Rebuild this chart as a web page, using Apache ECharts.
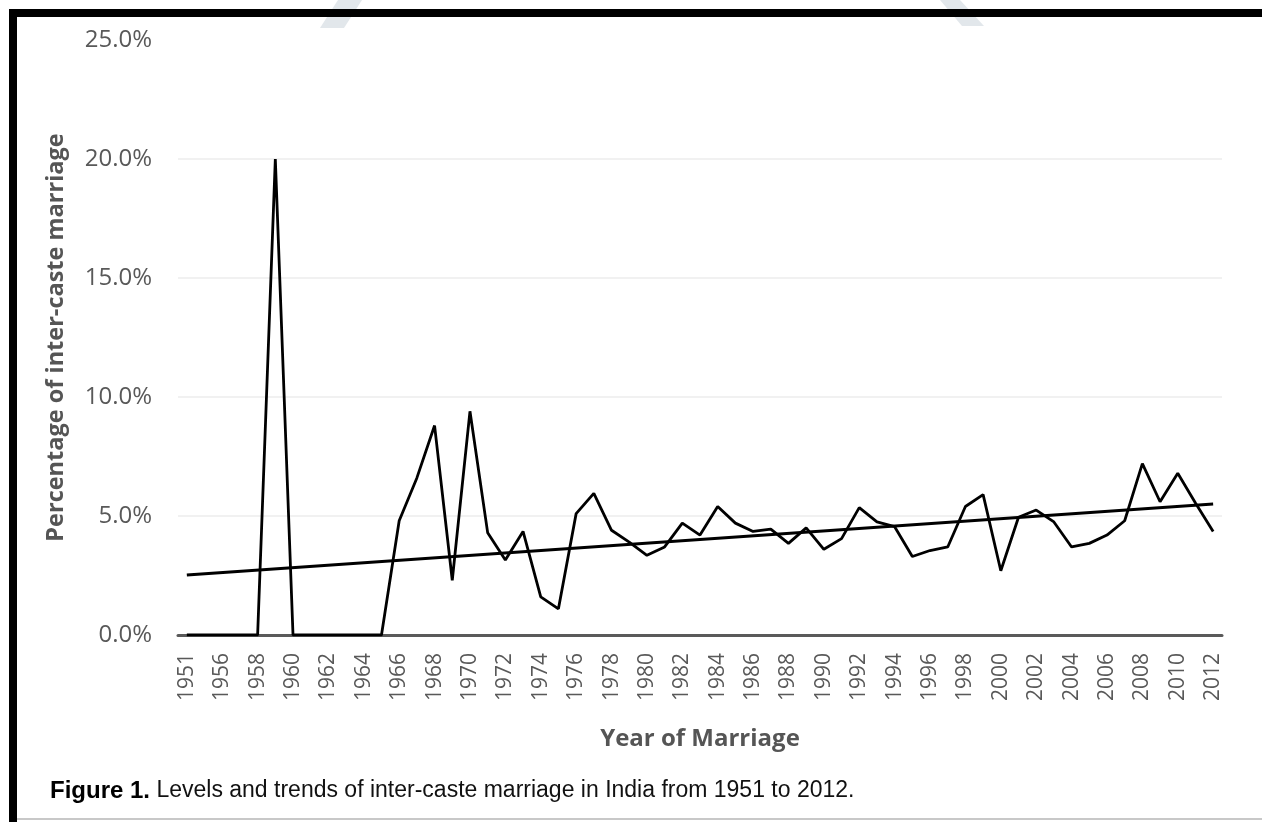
<!DOCTYPE html>
<html>
<head>
<meta charset="utf-8">
<script src="https://cdn.jsdelivr.net/npm/echarts@6/dist/echarts.min.js"></script>
<style>
  html, body { margin: 0; padding: 0; background: #fff; }
  #main { width: 1262px; height: 822px; }
</style>
</head>
<body>
<div id="main"></div>
<script>
    // year of marriage (second category has no visible label)
    var years = ['1951', '1955', '1956', '1957', '1958', '1959', '1960', '1961', '1962', '1963',
        '1964', '1965', '1966', '1967', '1968', '1969', '1970', '1971', '1972', '1973',
        '1974', '1975', '1976', '1977', '1978', '1979', '1980', '1981', '1982', '1983',
        '1984', '1985', '1986', '1987', '1988', '1989', '1990', '1991', '1992', '1993',
        '1994', '1995', '1996', '1997', '1998', '1999', '2000', '2001', '2002', '2003',
        '2004', '2005', '2006', '2007', '2008', '2009', '2010', '2011', '2012'];

    // percentage of inter-caste marriage
    var interCaste = [0, 0, 0, 0, 0, 20.0, 0, 0, 0, 0,
        0, 0, 4.8, 6.6, 8.8, 2.3, 9.4, 4.3, 3.15, 4.35,
        1.6, 1.1, 5.1, 5.95, 4.4, 3.9, 3.35, 3.7, 4.7, 4.2,
        5.4, 4.7, 4.35, 4.45, 3.85, 4.5, 3.6, 4.05, 5.35, 4.75,
        4.55, 3.3, 3.55, 3.7, 5.4, 5.9, 2.7, 4.95, 5.25, 4.75,
        3.7, 3.85, 4.2, 4.8, 7.2, 5.6, 6.8, 5.55, 4.35];

    // linear trend end points
    var trendYears = ['1951', '2012'];
    var trendValues = [2.52, 5.5];

    var yTicks = [0, 5, 10, 15, 20, 25];

    var chart = echarts.init(document.getElementById('main'));

    var option = {
        animation: false,
        backgroundColor: '#fff',
        grid: { left: 178, right: 40, top: 40, bottom: 187 },
        xAxis: {
            type: 'category',
            data: years,
            boundaryGap: true,
            name: 'Year of Marriage',
            nameLocation: 'middle',
            nameGap: 92,
            nameTextStyle: { fontFamily: 'Open Sans', fontSize: 24, fontWeight: 'bold', color: '#555' },
            axisLine: { lineStyle: { color: '#5a5a5a', width: 3 } },
            axisTick: { show: false },
            axisLabel: {
                interval: 1,
                rotate: 90,
                margin: 18,
                fontFamily: 'Open Sans',
                fontSize: 21,
                color: '#595959'
            }
        },
        yAxis: {
            type: 'value',
            min: yTicks[0],
            max: yTicks[yTicks.length - 1],
            interval: 5,
            name: 'Percentage of inter-caste marriage',
            nameLocation: 'middle',
            nameGap: 110,
            nameTextStyle: { fontFamily: 'Open Sans', fontSize: 23.5, fontWeight: 'bold', color: '#555' },
            axisLine: { show: false },
            axisTick: { show: false },
            splitLine: { showMaxLine: false, lineStyle: { color: '#ececec', width: 1.5 } },
            axisLabel: {
                margin: 26,
                fontFamily: 'Open Sans',
                fontSize: 24,
                color: '#595959',
                formatter: function (v) { return v.toFixed(1) + '%'; }
            }
        },
        series: [
            {
                name: 'Inter-caste marriage',
                type: 'line',
                data: interCaste,
                symbol: 'none',
                lineStyle: { color: '#000', width: 2.8 },
                z: 3
            },
            {
                name: 'Linear trend',
                type: 'line',
                data: [[trendYears[0], trendValues[0]], [trendYears[1], trendValues[1]]],
                symbol: 'none',
                lineStyle: { color: '#000', width: 3 },
                z: 4
            }
        ],
        graphic: [
            // faint watermark strokes behind the frame
            { type: 'polygon', z: 0, shape: { points: [[338, 0], [362, 0], [344, 28], [320, 28]] }, style: { fill: '#e2e7eb' } },
            { type: 'polygon', z: 0, shape: { points: [[940, 0], [960, 0], [984, 26], [962, 26]] }, style: { fill: '#e2e7eb' } },
            // frame
            { type: 'rect', z: 10, shape: { x: 9, y: 9, width: 1253, height: 8 }, style: { fill: '#000' } },
            { type: 'rect', z: 10, shape: { x: 9, y: 9, width: 8, height: 813 }, style: { fill: '#000' } },
            { type: 'rect', z: 10, shape: { x: 17, y: 818, width: 1245, height: 2 }, style: { fill: '#c8c8c8' } },
            // caption
            {
                type: 'text',
                z: 10,
                left: 50,
                top: 779,
                style: {
                    text: '{b|Figure 1.} Levels and trends of inter-caste marriage in India from 1951 to 2012.',
                    fontFamily: 'Liberation Sans',
                    fontSize: 23,
                    fill: '#111',
                    rich: {
                        b: { fontFamily: 'Liberation Sans', fontSize: 24, fontWeight: 'bold', fill: '#000' }
                    }
                }
            }
        ]
    };

    chart.setOption(option);
</script>
</body>
</html>
